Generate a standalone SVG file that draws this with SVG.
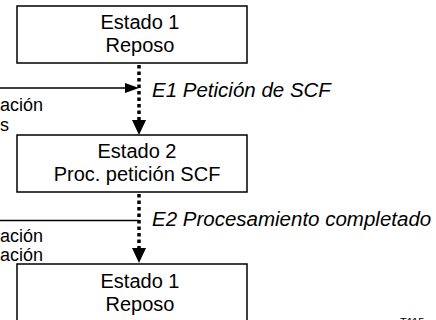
<svg xmlns="http://www.w3.org/2000/svg" width="436" height="320" viewBox="0 0 436 320">
<style>
.box{fill:#fff;stroke:#000;stroke-width:1.5}
.t{font-family:"Liberation Sans",Arial,sans-serif;font-size:20px;fill:#000;text-anchor:middle}
.lbl{font-family:"Liberation Sans",Arial,sans-serif;font-size:20.5px;font-style:italic;fill:#000}
.side{font-family:"Liberation Sans",Arial,sans-serif;font-size:18px;fill:#000}
.dot{stroke:#000;stroke-width:3.5;stroke-dasharray:3.5 3;fill:none}
.ln{stroke:#000;stroke-width:1.5;fill:none}
.ah{fill:#000}
</style>
<rect width="436" height="320" fill="#fff"/>
<g id="connectors">
<line class="dot" x1="139" y1="65" x2="139" y2="121"/>
<polygon class="ah" points="132,120 146,120 139,135"/>
<line class="ln" x1="0" y1="88" x2="126" y2="88"/>
<polygon class="ah" points="125,83 139,88 125,93"/>
<line class="dot" x1="139" y1="194" x2="139" y2="249"/>
<polygon class="ah" points="132,248 146,248 139,263"/>
<line class="ln" x1="0" y1="220.5" x2="139" y2="220.5"/>
</g>
<g id="state1">
<rect class="box" x="17" y="6" width="230" height="57"/>
<text class="t" x="140" y="29">Estado 1</text>
<text class="t" x="140" y="52">Reposo</text>
</g>
<g id="state2">
<rect class="box" x="17" y="135" width="230" height="57"/>
<text class="t" x="137" y="158">Estado 2</text>
<text class="t" x="137" y="181">Proc. petición SCF</text>
</g>
<g id="state3">
<rect class="box" x="17" y="264" width="230" height="70"/>
<text class="t" x="140" y="288">Estado 1</text>
<text class="t" x="140" y="311">Reposo</text>
</g>
<g id="labels">
<text class="lbl" x="152" y="97">E1 Petición de SCF</text>
<text class="lbl" x="152" y="226">E2 Procesamiento completado</text>
<text class="side" x="0" y="111">ación</text>
<text class="side" x="0" y="131">s</text>
<text class="side" x="0" y="242">ación</text>
<text class="side" x="0" y="261">ación</text>
<text class="side" x="400" y="326" style="font-size:11px">T115</text>
</g>
</svg>
